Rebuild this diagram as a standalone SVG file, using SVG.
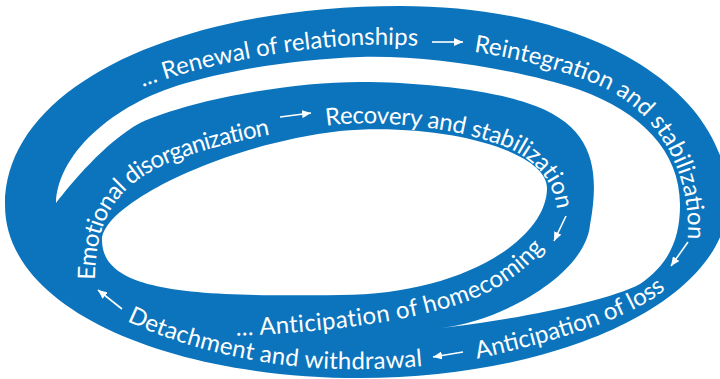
<svg xmlns="http://www.w3.org/2000/svg" width="720" height="379" viewBox="0 0 720 379">
<style>
.band{fill:#0b74bc;fill-rule:evenodd}
.lbl{font-family:Lato,"Open Sans","DejaVu Sans",sans-serif;font-size:24px;fill:#fff}
.arr{stroke:#fff;stroke-width:1.6;fill:none;marker-end:url(#ah)}
</style>
<defs>
<marker id="ah" markerWidth="10" markerHeight="8" refX="9" refY="4" orient="auto" markerUnits="userSpaceOnUse"><path d="M0,0 L9,4 L0,8 z" fill="#fff"/></marker>
<path id="pOutTop" d="M140,88 C200,65 290,48 360,45 C450,42 540,60 600,86 C650,108 688,160 688,230 L686,280"/>
<path id="pOutBot" d="M125,320 C175,345 260,368 340,369 C390,370 440,366 480,358 C540,345 625,322 665,290 L700,258"/>
<path id="pInTop" d="M95,292 C94,240 102,200 150,172 C185,152 260,133 340,124 C400,121 460,130 500,145 C530,155 557,180 557,215 L555,260"/>
<path id="pInBot" d="M230,336 C320,333 420,322 480,296 C510,283 535,262 550,240 L570,210"/>
</defs>
<g id="spiral">
<path class="band" d="M5,205 C5,85 180,6 400,6 C600,6 728,95 728,200 C728,300 560,378 360,378 C170,378 5,310 5,205 Z
M102,240 C102,205 220,145 340,131 C440,122 547,150 547,188 C547,240 460,295 340,295 C190,297 102,292 102,240 Z
M56,203 C58,150 120,100 190,82 C235,69 300,59 360,57 C430,55 520,70 580,90 C640,112 680,150 680,205 C680,240 668,265 640,284 C605,303 500,322 440,328 C500,322 585,275 590,225 C600,170 595,125 527,103 C490,90 420,82 360,82 C290,82 190,100 140,123 C105,142 70,185 56,203 Z"/>
</g>
<g id="renewal"><text class="lbl"><textPath href="#pOutTop" startOffset="3">... Renewal of relationships</textPath></text></g>
<g id="reintegration"><text class="lbl"><textPath href="#pOutTop" startOffset="339">Reintegration and stabilization</textPath></text></g>
<g id="anticipation-loss"><text class="lbl"><textPath href="#pOutBot" startOffset="360">Anticipation of loss</textPath></text></g>
<g id="detachment"><text class="lbl" letter-spacing="0.2"><textPath href="#pOutBot" startOffset="2">Detachment and withdrawal</textPath></text></g>
<g id="emotional"><text class="lbl" letter-spacing="-0.7"><textPath href="#pInTop" startOffset="12">Emotional disorganization</textPath></text></g>
<g id="recovery"><text class="lbl" letter-spacing="-0.25"><textPath href="#pInTop" startOffset="323">Recovery and stabilization</textPath></text></g>
<g id="homecoming"><text class="lbl" letter-spacing="0.35"><textPath href="#pInBot" startOffset="6">... Anticipation of homecoming</textPath></text></g>
<g id="connectors">
<line class="arr" x1="432" y1="42" x2="463" y2="42"/>
<line class="arr" x1="688" y1="242" x2="671" y2="266"/>
<line class="arr" x1="463" y1="352" x2="433" y2="357"/>
<line class="arr" x1="122" y1="309" x2="98" y2="290"/>
<line class="arr" x1="280" y1="117" x2="311" y2="113"/>
<line class="arr" x1="566" y1="216" x2="554" y2="241"/>
</g>
</svg>
